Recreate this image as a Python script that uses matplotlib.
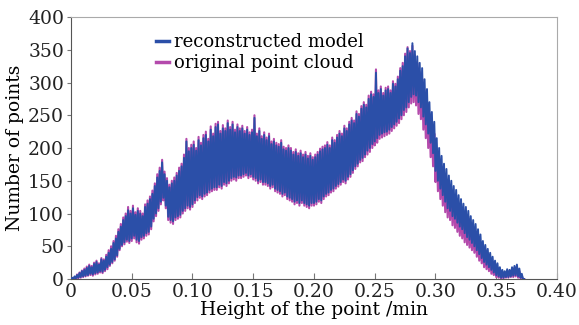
import numpy as np
import matplotlib.pyplot as plt

plt.rcParams['font.family'] = ['DejaVu Serif']

# point counts per height bin, one bin every 0.001 min (one row = 0.01 min)
step = 0.001
reconstructed = [
    0, 2, 0, 4, 1, 6, 2, 9, 3, 12,
    4, 14, 5, 17, 6, 20, 8, 18, 7, 23,
    9, 26, 10, 22, 12, 30, 11, 28, 14, 34,
    18, 40, 22, 46, 26, 55, 30, 62, 36, 72,
    46, 80, 52, 90, 56, 96, 60, 105, 58, 100,
    62, 108, 66, 98, 60, 104, 58, 100, 64, 96,
    66, 110, 70, 115, 72, 122, 80, 130, 92, 142,
    100, 155, 108, 165, 118, 178, 124, 160, 112, 150,
    95, 140, 90, 146, 88, 150, 94, 158, 96, 165,
    98, 172, 104, 185, 108, 210, 112, 195, 110, 200,
    114, 205, 120, 196, 125, 212, 128, 204, 126, 215,
    130, 220, 132, 210, 136, 228, 138, 218, 140, 232,
    140, 236, 144, 222, 142, 230, 148, 226, 146, 238,
    150, 228, 154, 236, 156, 224, 155, 232, 158, 226,
    158, 230, 160, 222, 162, 228, 158, 220, 160, 224,
    156, 246, 154, 218, 150, 226, 152, 214, 148, 220,
    148, 212, 146, 218, 142, 206, 144, 210, 138, 204,
    136, 202, 134, 208, 130, 198, 132, 196, 126, 200,
    124, 196, 122, 190, 118, 194, 120, 188, 116, 192,
    120, 186, 116, 190, 114, 184, 112, 188, 116, 182,
    116, 186, 118, 190, 122, 195, 120, 198, 126, 200,
    130, 205, 132, 200, 136, 212, 138, 208, 142, 216,
    145, 222, 148, 218, 152, 230, 150, 226, 156, 236,
    160, 242, 166, 238, 172, 252, 176, 248, 182, 260,
    185, 266, 190, 262, 196, 275, 200, 282, 206, 278,
    210, 315, 215, 284, 220, 290, 222, 280, 224, 288,
    225, 290, 228, 284, 232, 298, 236, 294, 240, 305,
    245, 318, 250, 325, 258, 340, 262, 352, 270, 345,
    278, 360, 282, 348, 280, 340, 270, 330, 262, 322,
    248, 305, 236, 290, 222, 270, 208, 255, 192, 240,
    165, 215, 150, 200, 138, 188, 128, 176, 118, 168,
    108, 158, 104, 150, 96, 142, 92, 136, 86, 128,
    80, 122, 76, 115, 70, 110, 64, 104, 60, 96,
    55, 90, 50, 84, 44, 76, 38, 68, 32, 58,
    26, 52, 22, 46, 18, 40, 14, 34, 10, 28,
    6, 24, 4, 18, 2, 14, 2, 12, 3, 15,
    3, 14, 4, 18, 5, 20, 6, 22, 4, 16,
    2, 8, 0, 0,
]
original = [
    0, 1, 0, 3, 0, 7, 1, 10, 2, 13,
    3, 16, 4, 19, 5, 22, 6, 20, 5, 25,
    7, 28, 8, 24, 10, 32, 9, 30, 12, 37,
    15, 44, 20, 50, 24, 58, 28, 66, 34, 76,
    44, 84, 50, 94, 53, 100, 57, 110, 55, 104,
    58, 112, 62, 102, 56, 108, 54, 104, 60, 100,
    62, 114, 66, 120, 68, 126, 76, 135, 88, 146,
    96, 160, 104, 170, 114, 182, 120, 164, 108, 154,
    90, 144, 86, 150, 84, 155, 90, 162, 92, 170,
    94, 176, 100, 190, 104, 214, 108, 200, 106, 205,
    110, 210, 116, 200, 120, 217, 124, 208, 122, 220,
    126, 225, 128, 214, 132, 233, 134, 222, 136, 237,
    136, 240, 140, 226, 138, 235, 144, 230, 142, 242,
    146, 232, 150, 240, 152, 228, 150, 236, 154, 230,
    154, 234, 156, 226, 158, 232, 154, 224, 156, 228,
    152, 250, 150, 222, 146, 230, 148, 218, 144, 224,
    144, 216, 142, 222, 138, 210, 140, 214, 134, 208,
    132, 206, 130, 212, 126, 202, 128, 200, 122, 204,
    120, 200, 118, 194, 114, 198, 116, 192, 112, 196,
    116, 190, 112, 194, 110, 188, 108, 192, 112, 186,
    112, 190, 114, 194, 118, 199, 116, 202, 122, 204,
    126, 209, 128, 204, 132, 216, 134, 212, 138, 220,
    141, 226, 144, 222, 148, 234, 146, 230, 152, 240,
    156, 246, 162, 242, 168, 256, 172, 252, 178, 264,
    180, 270, 186, 266, 190, 280, 194, 286, 200, 282,
    204, 320, 208, 288, 214, 294, 216, 284, 218, 292,
    220, 294, 222, 288, 226, 302, 230, 298, 234, 309,
    238, 322, 244, 330, 250, 344, 255, 354, 262, 348,
    268, 356, 270, 342, 265, 330, 252, 316, 244, 306,
    228, 288, 215, 270, 200, 252, 186, 236, 172, 222,
    148, 198, 134, 184, 122, 172, 112, 160, 102, 152,
    94, 144, 90, 136, 82, 128, 78, 122, 72, 114,
    66, 108, 62, 102, 56, 96, 52, 90, 48, 84,
    44, 78, 40, 72, 34, 64, 28, 56, 24, 48,
    18, 42, 15, 36, 12, 31, 8, 26, 6, 20,
    3, 17, 2, 12, 0, 9, 1, 8, 2, 11,
    2, 12, 3, 15, 3, 17, 4, 19, 2, 12,
    1, 5, 0, 0,
]
x_ticks = [0, 0.05, 0.10, 0.15, 0.20, 0.25, 0.30, 0.35, 0.40]
x_tick_labels = ['0', '0.05', '0.10', '0.15', '0.20', '0.25', '0.30', '0.35', '0.40']
y_ticks = [0, 50, 100, 150, 200, 250, 300, 350, 400]

heights_rec = np.arange(len(reconstructed)) * step
heights_org = np.arange(len(original)) * step

fig = plt.figure(figsize=(5.79, 3.25), dpi=100)
ax = fig.add_axes([0.1226, 0.1415, 0.8394, 0.8062])

ax.plot(heights_org, original, color='#b44aac', lw=1.5, label='original point cloud', zorder=2)
ax.plot(heights_rec, reconstructed, color='#2b4fa8', lw=1.4, label='reconstructed model', zorder=3)

ax.set_xlim(0, 0.40)
ax.set_ylim(0, 400)
ax.set_xticks(x_ticks)
ax.set_xticklabels(x_tick_labels)
ax.set_yticks(y_ticks)
ax.tick_params(axis='both', labelsize=13.5, colors='#222222')
ax.tick_params(axis='x', direction='in', length=4, color='#777777', pad=3)
ax.tick_params(axis='y', direction='out', length=3, color='#777777', pad=2)

for side in ['left', 'bottom']:
    ax.spines[side].set_color('#555555')
for side in ['top', 'right']:
    ax.spines[side].set_color('#aaaaaa')

ax.set_xlabel('Height of the point /min', fontsize=13.5, labelpad=0)
ax.set_ylabel('Number of points', fontsize=13.5, labelpad=3)

handles, labels = ax.get_legend_handles_labels()
leg = ax.legend(handles[::-1], labels[::-1], loc='upper left', bbox_to_anchor=(0.16, 0.965),
                frameon=False, fontsize=13, handlelength=0.7, handletextpad=0.3,
                labelspacing=0.15, borderaxespad=0)
for line in leg.get_lines():
    line.set_linewidth(2.5)

fig.savefig('out.png', dpi=100)
